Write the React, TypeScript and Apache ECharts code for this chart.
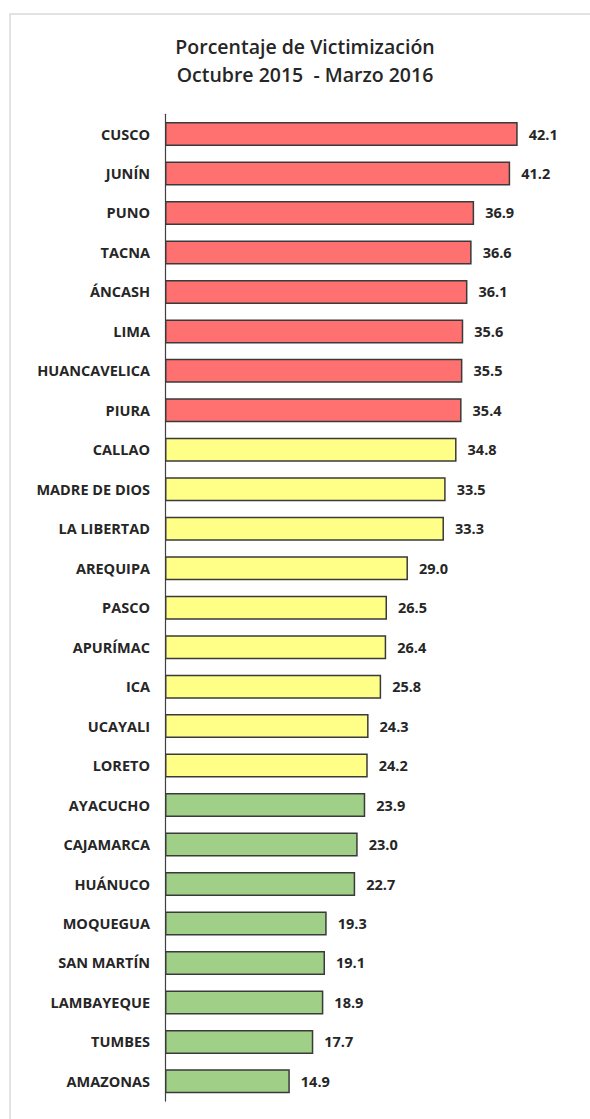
import React, { useEffect, useRef } from "react";
import * as echarts from "echarts";

const titleLines = ["Porcentaje de Victimización", "Octubre 2015  - Marzo 2016"];

const categories = [
  "CUSCO", "JUNÍN", "PUNO", "TACNA", "ÁNCASH", "LIMA", "HUANCAVELICA", "PIURA",
  "CALLAO", "MADRE DE DIOS", "LA LIBERTAD", "AREQUIPA", "PASCO", "APURÍMAC", "ICA",
  "UCAYALI", "LORETO", "AYACUCHO", "CAJAMARCA", "HUÁNUCO", "MOQUEGUA", "SAN MARTÍN",
  "LAMBAYEQUE", "TUMBES", "AMAZONAS",
];

const values = [
  42.1, 41.2, 36.9, 36.6, 36.1, 35.6, 35.5, 35.4,
  34.8, 33.5, 33.3, 29.0, 26.5, 26.4, 25.8, 24.3, 24.2,
  23.9, 23.0, 22.7, 19.3, 19.1, 18.9, 17.7, 14.9,
];

// group per category: 0 = high (red), 1 = medium (yellow), 2 = low (green)
const groups = [
  0, 0, 0, 0, 0, 0, 0, 0,
  1, 1, 1, 1, 1, 1, 1, 1, 1,
  2, 2, 2, 2, 2, 2, 2, 2,
];

const groupColors = ["#ff7070", "#ffff88", "#a0d088"];

export default function App() {
  const ref = useRef<HTMLDivElement>(null);

  useEffect(() => {
    document.body.style.margin = "0";
    if (!ref.current) return;
    const chart = echarts.init(ref.current, undefined, { renderer: "svg" });
    const font = "'Open Sans', 'Noto Sans', sans-serif";
    chart.setOption({
      animation: false,
      backgroundColor: "#ffffff",
      graphic: [
        {
          type: "rect",
          shape: { x: 10, y: 14, width: 620, height: 1200 },
          style: { fill: "none", stroke: "#d9d9d9", lineWidth: 1.5 },
          silent: true,
        },
        ...titleLines.map((t, i) => ({
          type: "text",
          x: 305,
          y: 46 + i * 28,
          silent: true,
          style: {
            text: t,
            textAlign: "center",
            textVerticalAlign: "middle",
            fontFamily: font,
            fontSize: 19.5,
            fontWeight: 600,
            fill: "#262626",
          },
        })),
      ],
      grid: { left: 165, top: 114.3, width: 377, height: 986.8, containLabel: false },
      xAxis: {
        type: "value",
        min: 0,
        max: 45,
        show: false,
        splitLine: { show: false },
      },
      yAxis: {
        type: "category",
        data: categories,
        inverse: true,
        axisLine: { show: true, lineStyle: { color: "#404040", width: 1.2 } },
        axisTick: { show: false },
        axisLabel: {
          margin: 15,
          fontFamily: font,
          fontSize: 14.5,
          fontWeight: 700,
          color: "#262626",
        },
      },
      series: [
        {
          type: "bar",
          barWidth: 24,
          data: values.map((v, i) => ({
            value: v,
            itemStyle: { color: groupColors[groups[i]] },
          })),
          itemStyle: { borderColor: "#3a3a3a", borderWidth: 1.5 },
          label: {
            show: true,
            position: "right",
            distance: 11,
            fontFamily: font,
            fontSize: 14.5,
            fontWeight: 700,
            color: "#262626",
            formatter: (p: any) => Number(p.value).toFixed(1),
          },
        },
      ],
    });
    return () => chart.dispose();
  }, []);

  return <div ref={ref} style={{ width: 590, height: 1119 }} />;
}
